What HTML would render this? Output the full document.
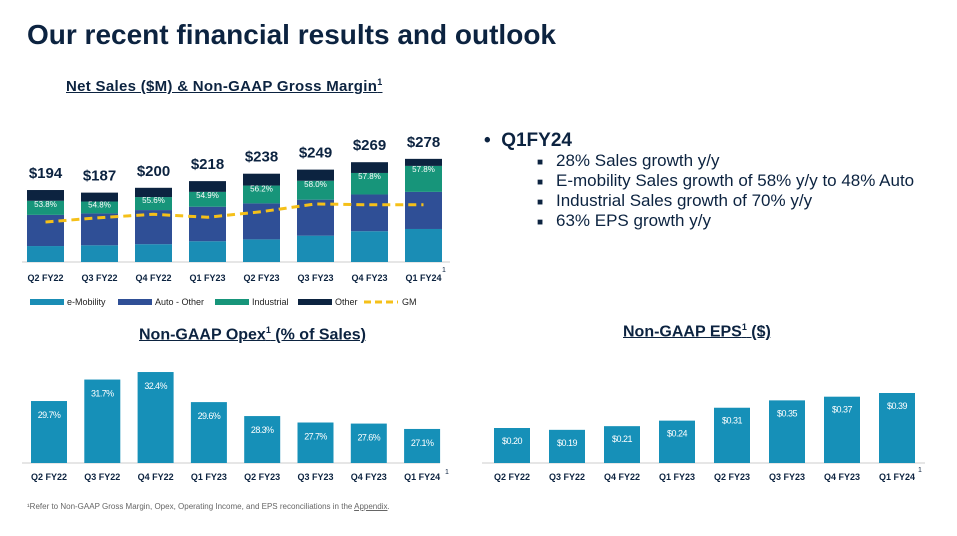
<!DOCTYPE html>
<html><head><meta charset="utf-8"><style>
body{margin:0;width:957px;height:536px;background:#fff;overflow:hidden;font-family:"Liberation Sans",sans-serif;position:relative}
.t{position:absolute;color:#0c2340}
.b{position:absolute;left:537px;font-size:10px;color:#0c2340}
.bt{position:absolute;left:556px;font-size:17px;color:#0c2340;white-space:nowrap}
</style></head><body>
<div class="t" style="left:27px;top:19px;font-size:28px;font-weight:bold">Our recent financial results and outlook</div>
<div class="t" style="left:66px;top:77px;font-size:15px;font-weight:bold;text-decoration:underline;letter-spacing:0.3px">Net Sales ($M) &amp; Non-GAAP Gross Margin<sup style="font-size:9px">1</sup></div>
<div class="t" style="left:139px;top:325px;font-size:16px;font-weight:bold;text-decoration:underline">Non-GAAP Opex<sup style="font-size:9px">1</sup> (% of Sales)</div>
<div class="t" style="left:623px;top:322px;font-size:16px;font-weight:bold;text-decoration:underline">Non-GAAP EPS<sup style="font-size:9px">1</sup> ($)</div>
<div>
 <div class="t" style="left:484px;top:130px;font-size:19px;font-weight:bold">•&nbsp;&nbsp;Q1FY24</div>
 <div class="b" style="top:157px">■</div><div class="bt" style="top:151px">28% Sales growth y/y</div>
 <div class="b" style="top:177px">■</div><div class="bt" style="top:171px">E-mobility Sales growth of 58% y/y to 48% Auto</div>
 <div class="b" style="top:197px">■</div><div class="bt" style="top:191px">Industrial Sales growth of 70% y/y</div>
 <div class="b" style="top:217px">■</div><div class="bt" style="top:211px">63% EPS growth y/y</div>
</div>
<div style="position:absolute;left:27px;top:502px;font-size:8px;color:#666">¹Refer to Non-GAAP Gross Margin, Opex, Operating Income, and EPS reconciliations in the <u>Appendix</u>.</div>
<svg id="s" width="957" height="536" style="position:absolute;left:0;top:0" xmlns="http://www.w3.org/2000/svg"></svg>
<script>
const quarters=["Q2 FY22","Q3 FY22","Q4 FY22","Q1 FY23","Q2 FY23","Q3 FY23","Q4 FY23","Q1 FY24"];
const totals=[194,187,200,218,238,249,269,278];
const emob=[43,45,48,56,61,71,83,89];
const autoOther=[84,86,92,93,97,97,99,100];
const industrial=[38,32,35,40,48,51,58,70];
const other=[29,24,25,29,32,30,29,19];
const gm=[53.8,54.8,55.6,54.9,56.2,58.0,57.8,57.8];
const opex=[29.7,31.7,32.4,29.6,28.3,27.7,27.6,27.1];
const eps=[0.20,0.19,0.21,0.24,0.31,0.35,0.37,0.39];
const S=document.getElementById('s');const NS="http://www.w3.org/2000/svg";
function mk(t,a,txt){const e=document.createElementNS(NS,t);for(const k in a)e.setAttribute(k,a[k]);if(txt!=null)e.textContent=txt;S.appendChild(e);return e;}
const sx=i=>27+i*54, sBase=262, sk=0.371, sy=v=>sBase-v*sk;
const gy=v=>222-(v-53.8)*4.3;
mk('line',{x1:22,x2:450,y1:sBase,y2:sBase,stroke:'#ccc'});
const segs=[[emob,'#1a8db5','emobility'],[autoOther,'#2f4f96','auto-other'],[industrial,'#17957a','industrial'],[other,'#0c2340','other']];
quarters.forEach((q,i)=>{let acc=0;
 segs.forEach(([arr,c,n])=>{const r=mk('rect',{x:sx(i),width:37,y:sy(acc+arr[i]),height:arr[i]*sk,fill:c});
  
  acc+=arr[i];});
 const t=mk('text',{x:sx(i)+18.5,y:sy(totals[i])-12,'text-anchor':'middle','font-size':15,'font-weight':'bold',fill:'#0c2340'},'$'+totals[i]);
 
 const g=mk('text',{x:sx(i)+18.5,y:sy(emob[i]+autoOther[i]+industrial[i])+6,'text-anchor':'middle','font-size':8,fill:'#fff'},gm[i].toFixed(1)+'%');
 
 const x=mk('text',{x:sx(i)+18.5,y:sBase+19,'text-anchor':'middle','font-size':9,'font-weight':'bold',fill:'#0c2340'},q);
 
});
const pts=gm.map((v,i)=>(sx(i)+18.5)+','+gy(v)).join(' ');
const gl=mk('polyline',{points:pts,fill:'none',stroke:'#f5c019','stroke-width':3,'stroke-dasharray':'8,5'});

mk('text',{x:442,y:272,'font-size':7,fill:'#0c2340'},'1');
const leg=[['e-Mobility','#1a8db5',30],['Auto - Other','#2f4f96',118],['Industrial','#17957a',215],['Other','#0c2340',298]];
leg.forEach(([n,c,x])=>{const r=mk('rect',{x:x,y:299,width:34,height:6,fill:c});
 const t=mk('text',{x:x+37,y:305,'font-size':9,fill:'#222'},n);});
mk('line',{x1:364,x2:398,y1:302,y2:302,stroke:'#f5c019','stroke-width':3,'stroke-dasharray':'7,4'});
mk('text',{x:402,y:305,'font-size':9,fill:'#222'},'GM');
const ox=i=>31+i*53.3, oBase=463, oy=v=>oBase-10.74*(v-23.93);
mk('line',{x1:22,x2:440,y1:oBase,y2:oBase,stroke:'#ccc'});
opex.forEach((v,i)=>{const r=mk('rect',{x:ox(i),width:36,y:oy(v),height:oBase-oy(v),fill:'#1690b8'});
 
 const t=mk('text',{x:ox(i)+18,y:oy(v)+17,'text-anchor':'middle','font-size':9,fill:'#fff','letter-spacing':'-0.6'},v.toFixed(1)+'%');
 
 const x=mk('text',{x:ox(i)+18,y:oBase+17,'text-anchor':'middle','font-size':9,'font-weight':'bold',fill:'#0c2340'},quarters[i]);
 });
mk('text',{x:445,y:474,'font-size':7,fill:'#0c2340'},'1');
const ex=i=>494+i*55, eBase=463, ey=v=>eBase-184.2*(v-0.01);
mk('line',{x1:482,x2:925,y1:eBase,y2:eBase,stroke:'#ccc'});
eps.forEach((v,i)=>{const r=mk('rect',{x:ex(i),width:36,y:ey(v),height:eBase-ey(v),fill:'#1690b8'});
 
 const t=mk('text',{x:ex(i)+18,y:ey(v)+16,'text-anchor':'middle','font-size':9,fill:'#fff','letter-spacing':'-0.5'},'$'+v.toFixed(2));
 
 const x=mk('text',{x:ex(i)+18,y:eBase+17,'text-anchor':'middle','font-size':9,'font-weight':'bold',fill:'#0c2340'},quarters[i]);
 });
mk('text',{x:918,y:472,'font-size':7,fill:'#0c2340'},'1');
</script>
</body></html>
